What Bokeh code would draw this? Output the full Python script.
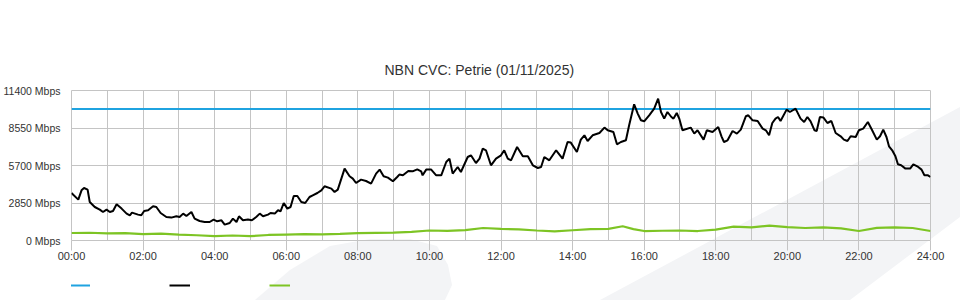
from bokeh.plotting import figure
from bokeh.layouts import column
from bokeh.models import FixedTicker, Range1d, Legend, LegendItem, InlineStyleSheet
from bokeh.embed import file_html
from bokeh.resources import INLINE

title_text = "NBN CVC: Petrie (01/11/2025)"
capacity_mbps = 10000

traffic_hours = [
    0.00, 0.19, 0.28, 0.35, 0.45, 0.51, 0.65, 0.79, 0.88, 0.98, 1.07, 1.16, 1.26, 1.40, 1.54, 1.63,
    1.69, 1.86, 1.95, 2.03, 2.14, 2.28, 2.37, 2.49, 2.65, 2.79, 2.93, 3.02, 3.12, 3.21, 3.35, 3.44,
    3.58, 3.72, 3.86, 3.97, 4.07, 4.19, 4.28, 4.42, 4.51, 4.61, 4.68, 4.79, 4.93, 5.04, 5.16, 5.26,
    5.35, 5.49, 5.56, 5.68, 5.77, 5.84, 5.93, 6.03, 6.12, 6.21, 6.31, 6.42, 6.53, 6.65, 6.74, 6.87,
    6.98, 7.07, 7.26, 7.35, 7.44, 7.63, 7.77, 7.86, 7.95, 8.09, 8.23, 8.37, 8.51, 8.61, 8.72, 8.84,
    8.98, 9.10, 9.16, 9.26, 9.41, 9.53, 9.66, 9.77, 9.81, 9.91, 10.05, 10.19, 10.33, 10.47, 10.56,
    10.65, 10.79, 10.88, 11.07, 11.16, 11.30, 11.40, 11.49, 11.58, 11.72, 11.86, 12.00, 12.09,
    12.19, 12.28, 12.45, 12.61, 12.75, 12.89, 13.03, 13.12, 13.21, 13.35, 13.54, 13.72, 13.86,
    13.95, 14.12, 14.23, 14.33, 14.42, 14.56, 14.75, 14.89, 14.98, 15.14, 15.24, 15.35, 15.49,
    15.58, 15.72, 15.82, 15.91, 16.00, 16.14, 16.28, 16.39, 16.47, 16.56, 16.65, 16.76, 16.82,
    16.91, 16.98, 17.07, 17.30, 17.40, 17.49, 17.66, 17.75, 17.91, 18.07, 18.16, 18.23, 18.33,
    18.47, 18.59, 18.70, 18.84, 18.91, 19.03, 19.17, 19.31, 19.40, 19.49, 19.58, 19.67, 19.74,
    19.81, 19.98, 20.07, 20.23, 20.37, 20.47, 20.56, 20.65, 20.76, 20.82, 20.91, 21.01, 21.12,
    21.23, 21.35, 21.49, 21.58, 21.68, 21.77, 21.91, 22.00, 22.12, 22.25, 22.37, 22.50, 22.59,
    22.68, 22.77, 22.84, 22.93, 23.02, 23.09, 23.18, 23.30, 23.43, 23.52, 23.63, 23.75, 23.83,
    23.93, 24.00,
]
traffic_mbps = [
    3610, 3108, 3815, 3990, 3868, 2926, 2546, 2348, 2166, 2348, 2166, 2242, 2751, 2424, 2044, 1915,
    2120, 1968, 1915, 2242, 2295, 2599, 2546, 2090, 1786, 1740, 1839, 1786, 2044, 1862, 2166, 1664,
    1482, 1406, 1406, 1588, 1459, 1535, 1208, 1330, 1664, 1406, 1839, 1535, 1588, 1535, 1786, 2044,
    1839, 1968, 2090, 2044, 2295, 2219, 2850, 2424, 2546, 3382, 3382, 2926, 2850, 3306, 3435, 3610,
    3815, 4119, 3944, 3686, 3868, 5464, 4879, 4704, 4370, 4628, 4522, 4324, 5084, 5388, 4879, 4780,
    4499, 4826, 5008, 4955, 5282, 5259, 5411, 5259, 4955, 5388, 5388, 4955, 4955, 5966, 6224,
    5084, 5586, 5206, 6346, 6475, 5890, 6224, 6984, 6855, 5715, 6224, 6475, 6855,
    6224, 6095, 7106, 6399, 6399, 5715, 5510, 5586, 6346, 6095, 6855, 6224, 7486,
    7440, 6726, 7668, 7995, 7562, 7995, 8170, 8580, 8375, 8246, 7311, 7486, 7615,
    8755, 10351, 9644, 9135, 9059, 9515, 10024, 10784, 9766, 9264, 9766, 9386, 9264,
    9690, 9264, 8375, 8580, 8124, 8375, 7668, 8375, 8246, 8626, 7919, 7486, 7615,
    8322, 8124, 8426, 9439, 9515, 9135, 9082, 8504, 8375, 7995, 8930, 9264, 9386,
    9082, 9948, 9766, 10024, 9264, 9009, 9386, 9059, 8375, 8322, 9386, 9340, 8930,
    9082, 8170, 7919, 7668, 7562, 7919, 7866, 8375, 8504, 9009, 8375, 7668, 7919,
    8426, 7866, 7159, 6855, 6399, 5791, 5715, 5464, 5464, 5791, 5639, 5388, 4955,
    4955, 4826,
]

upload_hours = [
    0.0, 0.5, 1.0, 1.5, 2.0, 2.5, 3.0, 3.5, 4.0, 4.5, 5.0, 5.5, 6.0, 6.5, 7.0, 7.5, 8.0, 8.5,
    9.0, 9.5, 10.0, 10.5, 11.0, 11.5, 12.0, 12.5, 13.0, 13.5, 14.0, 14.5, 15.0, 15.4, 15.7,
    16.0, 16.5, 17.0, 17.5, 18.0, 18.5, 19.0, 19.5, 20.0, 20.5, 21.0, 21.5, 22.0, 22.5, 23.0,
    23.5, 24.0,
]
upload_mbps = [
    570, 590, 540, 560, 480, 520, 440, 400, 330, 380, 330, 420, 450, 480, 470, 500, 560, 580,
    600, 660, 760, 730, 790, 950, 880, 850, 760, 700, 780, 860, 880, 1080, 860,
    720, 740, 760, 720, 830, 1050, 1000, 1130, 1020, 950, 1000, 920, 720, 960, 1000,
    950, 720,
]

y_ticks = [0, 2850, 5700, 8550, 11400]
x_ticks = list(range(0, 25, 2))
x_tick_labels = ["%02d:00" % h for h in x_ticks]
grid_hours = list(range(0, 25))

series_colors = ["#1fa3e0", "#000000", "#7dc424"]
legend_labels = ["\u200b", "\u200b", "\u200b"]  # the reference legend shows keys without text

# page watermark shapes (page pixels), painted as the plots' CSS background
wm_band_x = [600, 960, 960, 850]
wm_band_y = [300, 107, 217, 300]
wm_blob_x = [255, 290, 330, 370, 410, 437, 448, 452, 445]
wm_blob_y = [300, 270, 246, 239, 239, 246, 265, 285, 300]


def pts(xs, ys):
    return " ".join("%d,%d" % (a, b) for a, b in zip(xs, ys))


wm_svg = ("<svg xmlns='http://www.w3.org/2000/svg' width='960' height='300'>"
          "<polygon points='%s' fill='rgb(243,244,246)'/>"
          "<polygon points='%s' fill='rgb(243,244,246)'/></svg>"
          % (pts(wm_band_x, wm_band_y), pts(wm_blob_x, wm_blob_y)))
wm_url = 'url("data:image/svg+xml;utf8,%s")' % wm_svg.replace("<", "%3C").replace(">", "%3E")

CHART_H = 265
FONT = "Liberation Sans"
GRID = "#c4c4c4"
TEXT = "#333333"

p = figure(width=960, height=CHART_H, output_backend="svg", toolbar_location=None,
           min_border_left=70, min_border_right=30, min_border_top=90, min_border_bottom=25,
           x_range=Range1d(0, 24), y_range=Range1d(0, 11400),
           stylesheets=[InlineStyleSheet(css=":host { background: white %s no-repeat 0 0; }" % wm_url)])
p.background_fill_color = None
p.border_fill_color = None
p.outline_line_color = GRID

p.title.text = title_text
p.title.align = "left"
p.title.offset = 313
p.title.standoff = 25
p.title.text_font = FONT
p.title.text_font_size = "14px"
p.title.text_font_style = "normal"
p.title.text_color = TEXT

p.xaxis.ticker = FixedTicker(ticks=x_ticks)
p.xaxis.major_label_overrides = {t: l for t, l in zip(x_ticks, x_tick_labels)}
p.xaxis.axis_line_color = None
p.xaxis.major_tick_line_color = GRID
p.xaxis.major_tick_out = 10
p.xaxis.major_tick_in = 0
p.xaxis.minor_tick_line_color = None
p.xaxis.major_label_standoff = -1
p.xaxis.major_label_text_font = FONT
p.xaxis.major_label_text_font_size = "11px"
p.xaxis.major_label_text_color = TEXT

p.yaxis.ticker = FixedTicker(ticks=y_ticks)
p.yaxis.major_label_overrides = {t: "%d Mbps" % t for t in y_ticks}
p.yaxis.axis_line_color = None
p.yaxis.major_tick_line_color = None
p.yaxis.major_tick_out = 0
p.yaxis.major_tick_in = 0
p.yaxis.minor_tick_line_color = None
p.yaxis.major_label_standoff = 11
p.yaxis.major_label_text_font = FONT
p.yaxis.major_label_text_font_size = "10.5px"
p.yaxis.major_label_text_color = TEXT

p.xgrid.ticker = FixedTicker(ticks=grid_hours)
p.xgrid.grid_line_color = GRID
p.ygrid.grid_line_color = GRID

cap_x = [traffic_hours[0], traffic_hours[-1]]
cap_y = [capacity_mbps, capacity_mbps]
p.line(cap_x, cap_y, line_color=series_colors[0], line_width=2)
p.line(traffic_hours, traffic_mbps, line_color=series_colors[1], line_width=2)
p.line(upload_hours, upload_mbps, line_color=series_colors[2], line_width=2.2)

# legend strip under the chart (keys only, as in the reference); its frame looks at an
# empty window of the same data so only the legend keys show
lg = figure(width=960, height=300 - CHART_H, output_backend="svg", toolbar_location=None,
            min_border=0, x_range=Range1d(-2, -1), y_range=Range1d(-2, -1),
            stylesheets=[InlineStyleSheet(css=":host { background: white %s no-repeat 0 -%dpx; }"
                                          % (wm_url, CHART_H))])
lg.axis.visible = False
lg.grid.visible = False
lg.outline_line_color = None
lg.background_fill_color = None
lg.border_fill_color = None
keys = [lg.line(cap_x, cap_y, line_color=series_colors[0], line_width=2),
        lg.line(traffic_hours, traffic_mbps, line_color=series_colors[1], line_width=2),
        lg.line(upload_hours, upload_mbps, line_color=series_colors[2], line_width=2)]
legend = Legend(items=[LegendItem(label=t, renderers=[k]) for t, k in zip(legend_labels, keys)],
                orientation="horizontal", location=(-2, 5),
                glyph_width=21, glyph_height=20, label_standoff=0, label_width=79,
                spacing=0, padding=0, margin=0, border_line_color=None,
                background_fill_alpha=0, label_text_font_size="11px")
lg.add_layout(legend, "center")

layout = column(p, lg, spacing=0)
open("out.html", "w").write(file_html(layout, INLINE))
